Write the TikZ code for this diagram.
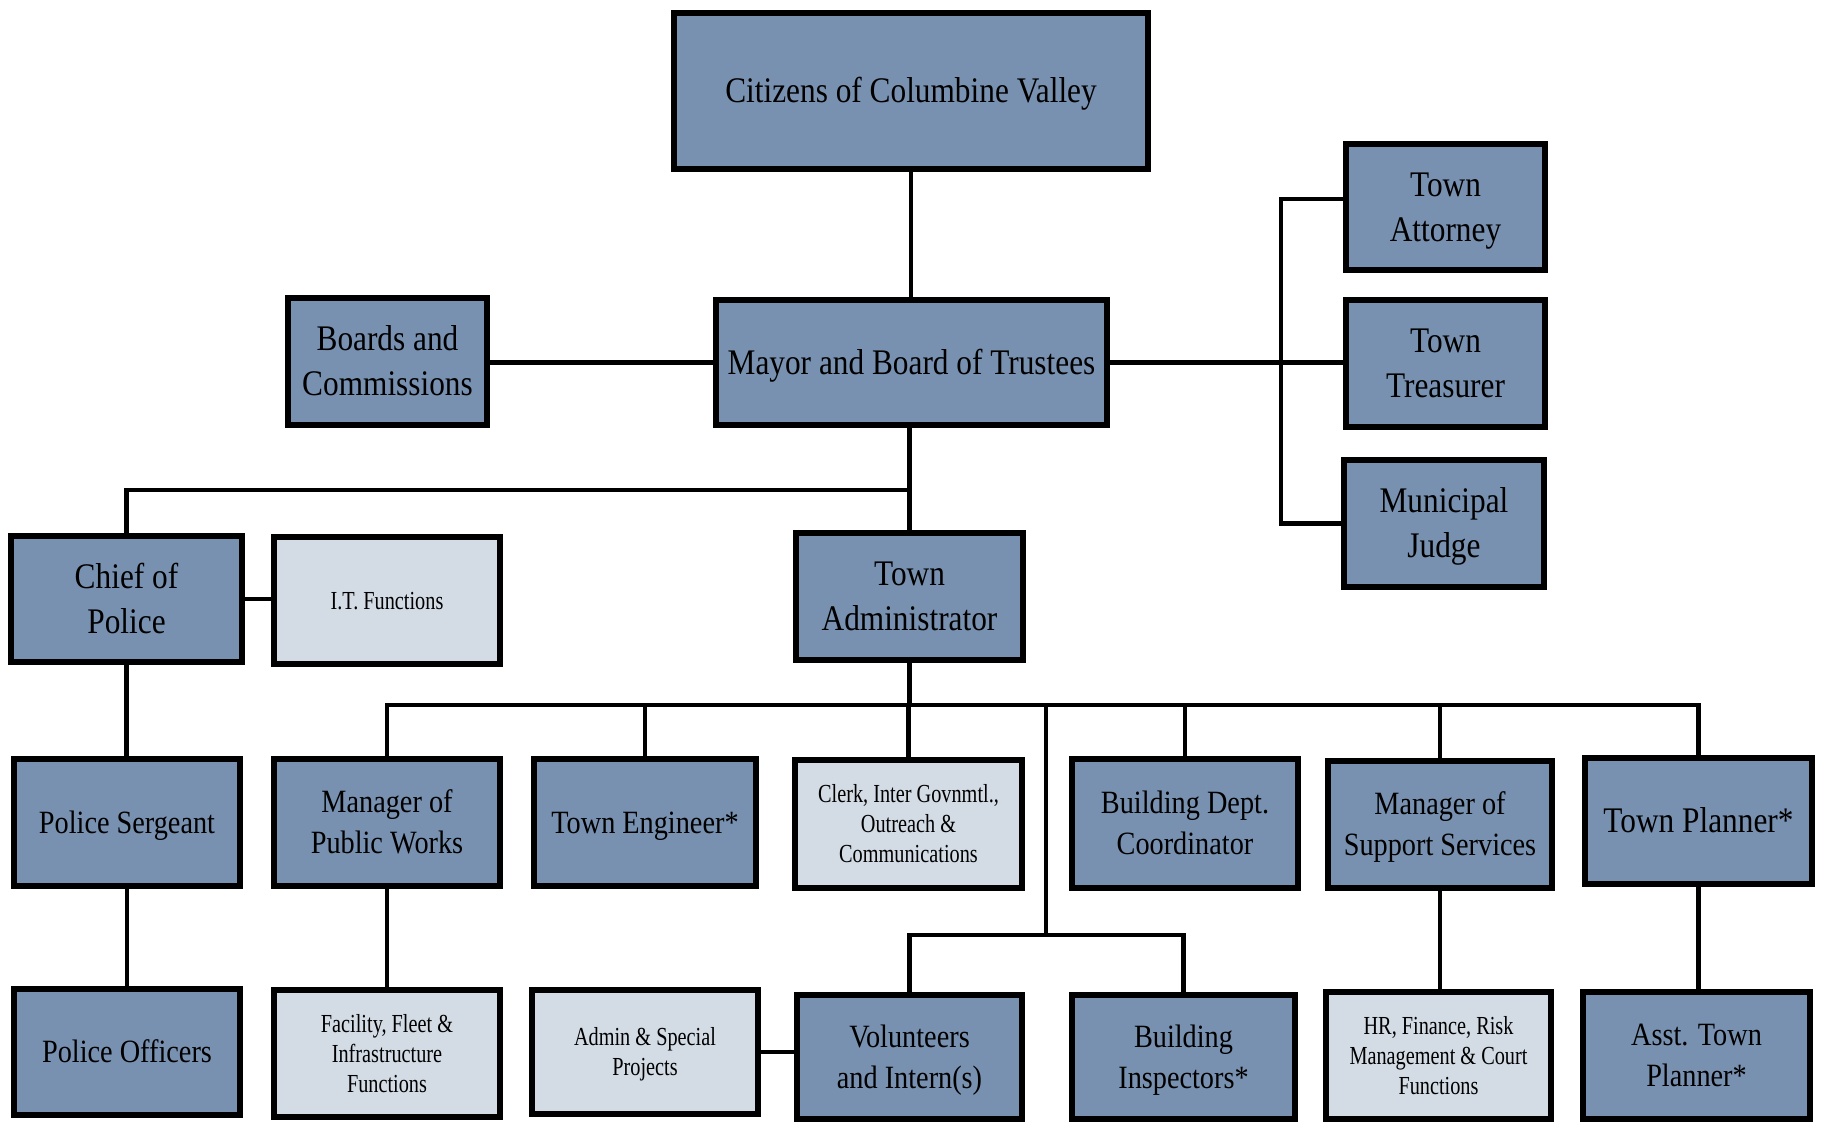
\documentclass[tikz,border=0pt]{standalone}
\usepackage{fontspec}
\setmainfont{Liberation Serif}
\newfontfamily\dkff[FakeStretch=0.87]{Liberation Serif}
\newfontfamily\ltff[FakeStretch=0.78]{Liberation Serif}
\definecolor{dkfill}{HTML}{7891B0}
\definecolor{ltfill}{HTML}{D3DBE5}
\newcommand\ls{\rule[-0.24em]{0pt}{1.14em}}
\newcommand\obox[7]{\node[#2, minimum width={(#5-#3-6)*1pt}, minimum height={(#6-#4-6)*1pt}] (#1) at ({(#3+#5)/2},{(#4+#6)/2}) {#7};}
\tikzset{
  box/.style={draw=black, line width=6pt, rectangle, inner sep=0pt, align=center, text=black},
  dkbig/.style={box, fill=dkfill, font=\dkff\fontsize{36}{45}\selectfont},
  dksm/.style={box, fill=dkfill, font=\dkff\fontsize{32.5}{41}\selectfont},
  lt/.style={box, fill=ltfill, font=\ltff\fontsize{26}{30}\selectfont},
  conn/.style={line width=4.5pt, draw=black}
}
\begin{document}
\begin{tikzpicture}[x=1pt,y=-1pt]
\path[use as bounding box, fill=white] (0,0) rectangle (1826,1124);
% boxes
\obox{cit}{dkbig}{671}{10}{1151}{172}{\ls Citizens of Columbine Valley}
\obox{mayor}{dkbig}{713}{297}{1110}{428}{\ls Mayor and Board of Trustees}
\obox{boards}{dkbig}{285}{295}{490}{428}{\ls Boards and\\\ls Commissions}
\obox{atty}{dkbig}{1343}{141}{1548}{273}{\ls Town\\\ls Attorney}
\obox{treas}{dkbig}{1343}{297}{1548}{430}{\ls Town\\\ls Treasurer}
\obox{judge}{dkbig}{1341}{457}{1547}{590}{\ls Municipal\\\ls Judge}
\obox{chief}{dkbig}{8}{533}{245}{665}{\ls Chief of\\\ls Police}
\obox{it}{lt}{271}{534}{503}{667}{\ls I.T. Functions}
\obox{admin}{dkbig}{793}{530}{1026}{663}{\ls Town\\\ls Administrator}
% row 2
\obox{sgt}{dksm}{11}{756}{243}{889}{\ls Police Sergeant}
\obox{pw}{dksm}{271}{756}{503}{889}{\ls Manager of\\\ls Public Works}
\obox{eng}{dksm}{531}{756}{759}{889}{\ls Town Engineer*}
\obox{clerk}{lt}{792}{757}{1025}{891}{\ls Clerk, Inter Govnmtl.,\\\ls Outreach \&\\\ls Communications}
\obox{bdc}{dksm}{1069}{756}{1301}{891}{\ls Building Dept.\\\ls Coordinator}
\obox{mss}{dksm}{1325}{758}{1555}{891}{\ls Manager of\\\ls Support Services}
\obox{tp}{dkbig}{1582}{755}{1815}{887}{\ls Town Planner*}
% row 3
\obox{po}{dksm}{11}{986}{243}{1118}{\ls Police Officers}
\obox{fac}{lt}{271}{987}{503}{1120}{\ls Facility, Fleet \&\\\ls Infrastructure\\\ls Functions}
\obox{asp}{lt}{529}{987}{761}{1117}{\ls Admin \& Special\\\ls Projects}
\obox{vol}{dksm}{794}{992}{1025}{1122}{\ls Volunteers\\\ls and Intern(s)}
\obox{bi}{dksm}{1069}{992}{1298}{1122}{\ls Building\\\ls Inspectors*}
\obox{hr}{lt}{1323}{989}{1554}{1122}{\ls HR, Finance, Risk\\\ls Management \& Court\\\ls Functions}
\obox{atp}{dksm}{1580}{989}{1813}{1122}{\ls Asst. Town\\\ls Planner*}
% helper coordinates
\coordinate (jtop) at (0,490);
\coordinate (hrow) at (0,705);
\coordinate (brk) at (1281,0);
\coordinate (vb) at (1046,935);
% connectors
\draw[conn] (cit.south) -- (cit.south |- mayor.north);
\draw[conn] (mayor.west) -- (mayor.west -| boards.east);
\draw[conn] (mayor.east) -- (mayor.east -| treas.west);
\draw[conn] ([yshift=8pt]atty.west) -| (brk |- judge.west) -- (judge.west);
\draw[conn] (admin.north) -- (admin.north |- mayor.south);
\draw[conn] (admin.north |- jtop) -| (chief.north);
\draw[conn] (chief.east) -- (chief.east -| it.west);
\draw[conn] (chief.south) -- (chief.south |- sgt.north);
\draw[conn] (sgt.south) -- (sgt.south |- po.north);
\draw[conn] (admin.south) -- (admin.south |- hrow);
\draw[conn] (pw.north) |- (tp.north |- hrow) -- (tp.north);
\foreach \n in {eng,clerk,bdc,mss} \draw[conn] (\n.north |- hrow) -- (\n.north);
\draw[conn] (vb |- hrow) -- (vb);
\draw[conn] (vol.north) |- (vb) -| (bi.north);
\draw[conn] (pw.south) -- (pw.south |- fac.north);
\draw[conn] (mss.south) -- (mss.south |- hr.north);
\draw[conn] (tp.south) -- (tp.south |- atp.north);
\draw[conn] (asp.east) -- (asp.east -| vol.west);
\end{tikzpicture}
\end{document}
